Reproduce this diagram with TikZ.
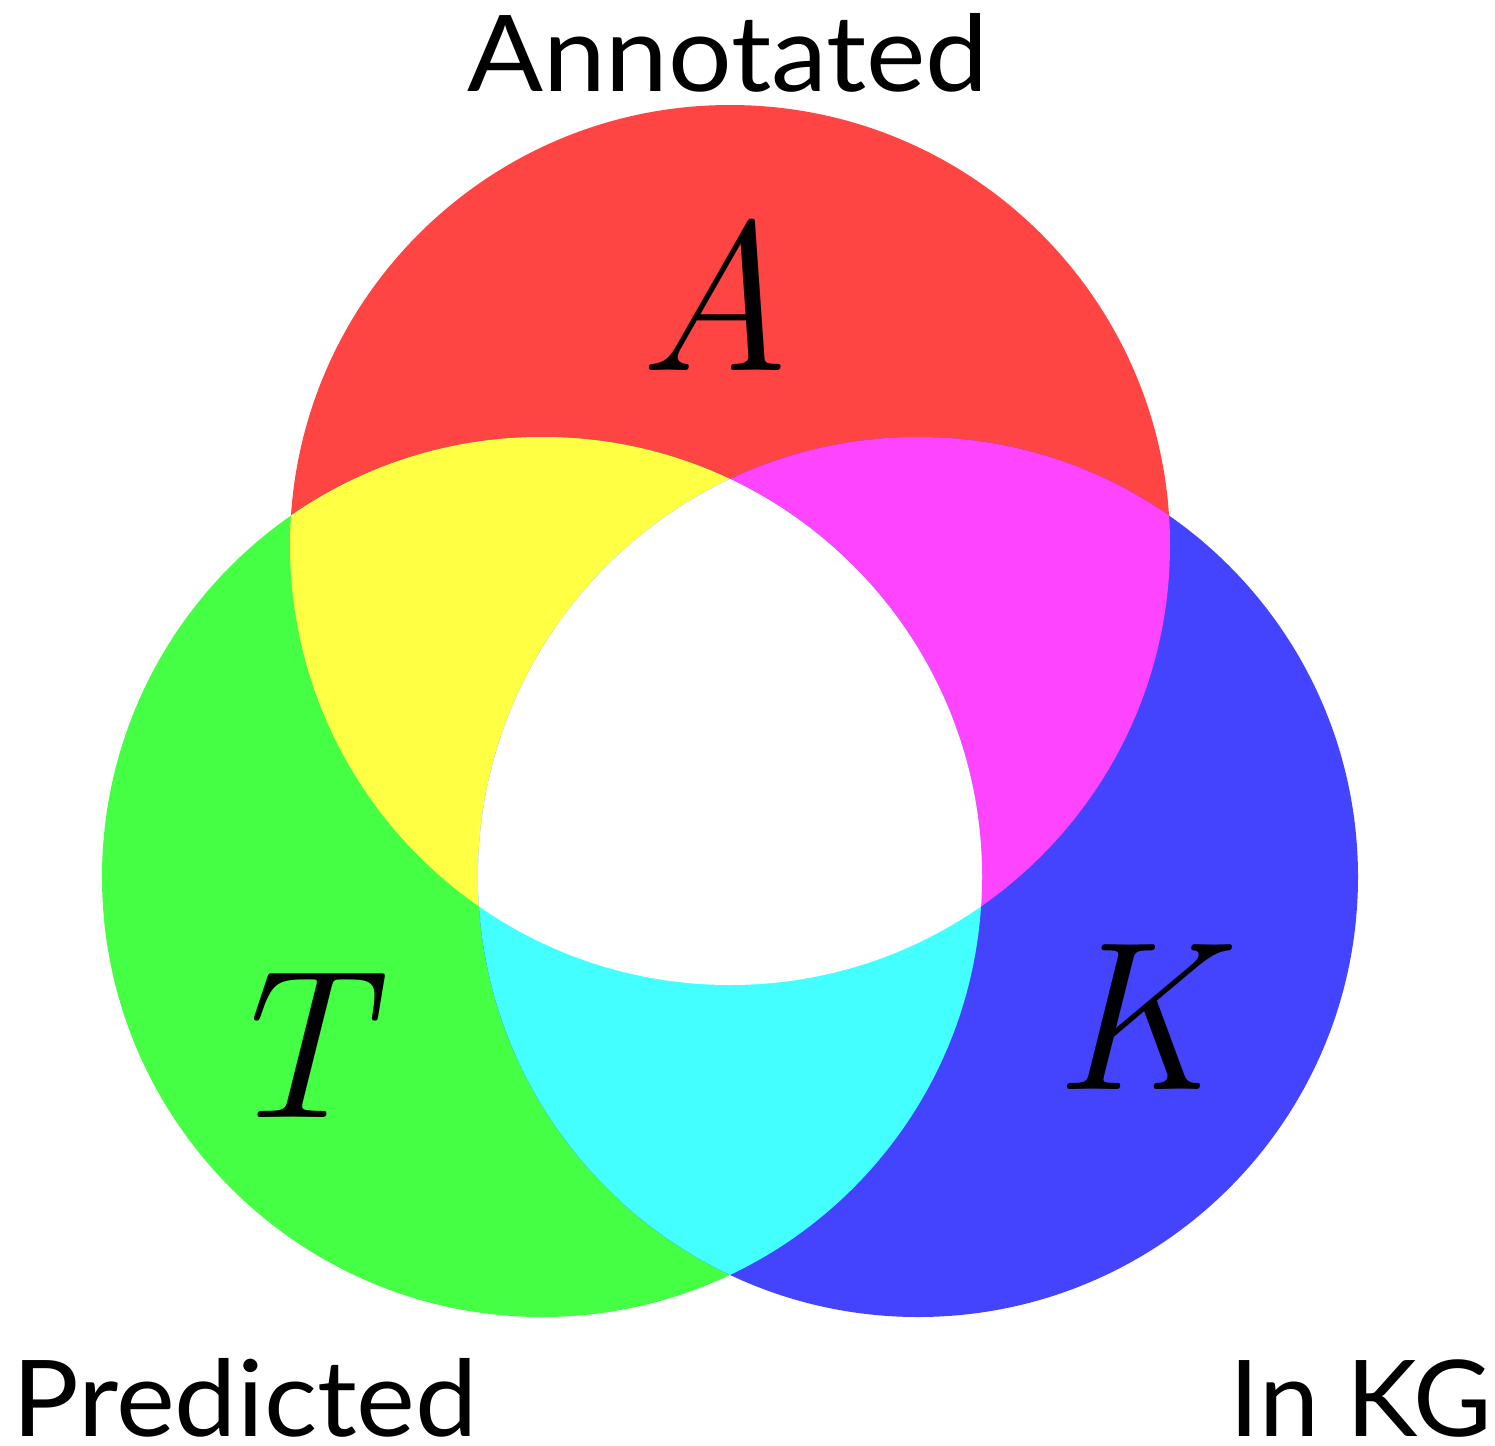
\documentclass[tikz,border=0pt]{standalone}
\usepackage{fontspec}
\setsansfont{Lato}
\definecolor{cred}{RGB}{255,68,68}
\definecolor{cgreen}{RGB}{68,255,68}
\definecolor{cblue}{RGB}{68,68,255}
\definecolor{cyel}{RGB}{255,255,68}
\definecolor{cmag}{RGB}{255,68,255}
\definecolor{ccyan}{RGB}{68,255,255}
\tikzset{
  setlabel/.style={font=\sffamily\fontsize{106}{110}\selectfont, anchor=base, inner sep=0pt, text depth=0pt},
  letterlabel/.style={font=\rmfamily\itshape\fontsize{212}{220}\selectfont, anchor=base, inner sep=0pt}
}
\begin{document}
\begin{tikzpicture}[x=1pt,y=-1pt]
\useasboundingbox (0,0) rectangle (1495,1445);
\fill[white] (0,0) rectangle (1495,1445);
\def\R{440}
\coordinate (cA) at (730,545);
\coordinate (cT) at (542,877);
\coordinate (cK) at (918,877);
\fill[cred] (cA) circle (\R);
\fill[cgreen] (cT) circle (\R);
\fill[cblue] (cK) circle (\R);
\begin{scope}
  \clip (cA) circle (\R);
  \fill[cyel] (cT) circle (\R);
  \fill[cmag] (cK) circle (\R);
\end{scope}
\begin{scope}
  \clip (cT) circle (\R);
  \fill[ccyan] (cK) circle (\R);
\end{scope}
\begin{scope}
  \clip (cA) circle (\R);
  \clip (cT) circle (\R);
  \fill[white] (cK) circle (\R);
\end{scope}
\node[setlabel, xscale=1.06] (annot) at (728,91) {Annotated};
\node[setlabel, xscale=1.05] (pred) at (245,1436) {Predicted};
\node[setlabel, xscale=1.015] (inkg) at (1361,1436) {In KG};
\node[letterlabel] (lA) at (715,370) {A};
\node[letterlabel] (lT) at (292,1117) {T};
\node[letterlabel] (lK) at (1133,1089) {K};
\end{tikzpicture}
\end{document}
